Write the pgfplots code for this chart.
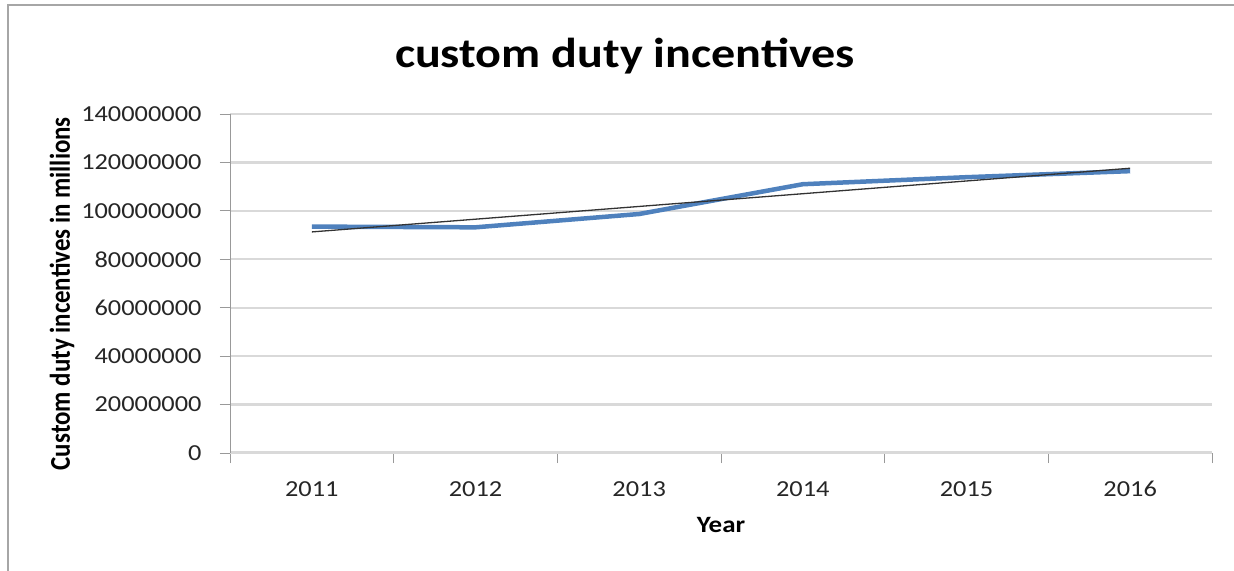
\documentclass[border=0pt]{standalone}
\usepackage{fontspec}
\setmainfont[FakeStretch=1.15]{Carlito}
\newfontfamily\plainfont{Carlito}
\usepackage{pgfplots}
\pgfplotsset{compat=1.18}
\definecolor{exblue}{HTML}{4F81BD}
\definecolor{gridc}{HTML}{D9D9D9}
\begin{document}
\begin{tikzpicture}
\path[use as bounding box] (0bp,0bp) rectangle (1234bp,571bp);
\draw[gray!70, line width=2bp] (8bp,0bp) -- (8bp,566bp) -- (1234bp,566bp);
\node[font=\fontsize{42}{45}\selectfont\bfseries] at (625bp,515bp) {custom duty incentives};
\begin{axis}[
  at={(230bp,118bp)}, anchor=south west,
  width=982bp, height=339bp, scale only axis,
  xmin=-0.5, xmax=5.5, ymin=0, ymax=140000000,
  xtick={0,1,2,3,4,5},
  xticklabels={2011,2012,2013,2014,2015,2016},
  minor xtick={-0.5,0.5,1.5,2.5,3.5,4.5,5.5},
  major x tick style={draw=none},
  minor x tick style={draw=gray!80, line width=0.8bp},
  minor tick length=10bp,
  ytick={0,20000000,...,140000000},
  scaled y ticks=false,
  yticklabel style={/pgf/number format/fixed, /pgf/number format/1000 sep={}, font=\fontsize{23}{24}\selectfont, xshift=-15bp, text=black!85},
  xticklabel style={font=\fontsize{23}{24}\selectfont, yshift=-15bp, text=black!85},
  /pgf/number format/assume math mode=true,
  tick align=outside, tick pos=left,
  major tick length=10bp,
  y tick style={draw=gray!80, line width=0.8bp},
  ymajorgrids, grid style={gridc, line width=2.2bp},
  axis x line*=bottom, axis y line*=left,
  x axis line style={gridc, line width=3bp},
  y axis line style={gray!80, line width=0.8bp},
  every axis x label/.style={at={(axis description cs:0.5,0)}, yshift=-72bp, anchor=center},
  every axis y label/.style={at={(axis description cs:0,0.47)}, xshift=-168bp, rotate=90, anchor=center},
  xlabel={\bfseries Year},
  ylabel={\scalebox{1}[1.15]{\plainfont\bfseries Custom duty incentives in millions}},
  xlabel style={font=\fontsize{23.5}{25}\selectfont},
  ylabel style={font=\fontsize{25}{26}\selectfont},
  clip=false,
]
\addplot[exblue, line width=4.5bp] coordinates {
  (0,93500000) (1,93200000) (2,98700000) (3,111000000) (4,113900000) (5,116400000)
};
\addplot[black!80, line width=1.3bp] coordinates {
  (0,91300000) (5,117600000)
};
\end{axis}
\end{tikzpicture}
\end{document}
